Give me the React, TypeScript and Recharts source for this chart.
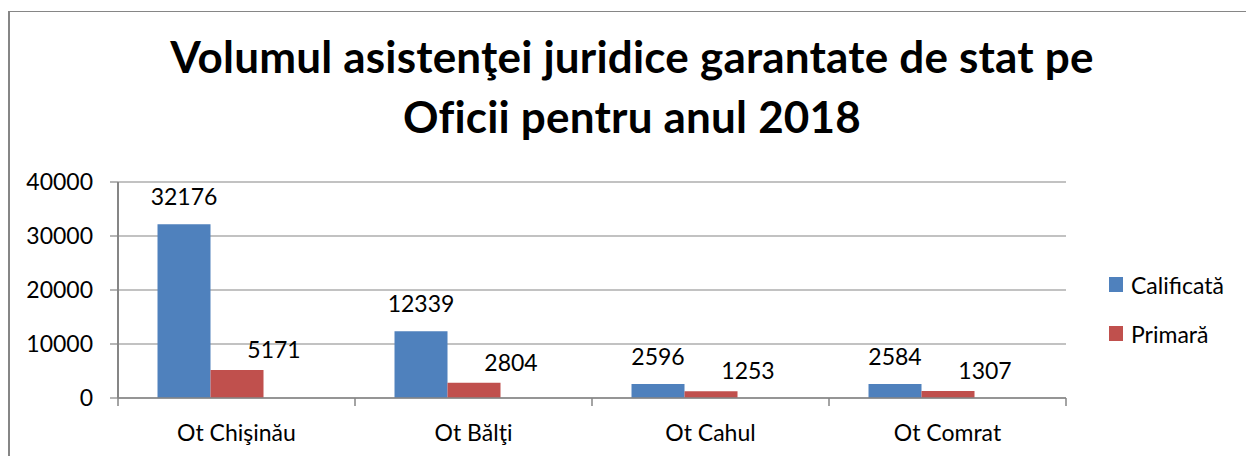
import { BarChart, Bar, XAxis, YAxis, CartesianGrid, LabelList } from "recharts";

// data
const categories = ["Ot Chişinău", "Ot Bălţi", "Ot Cahul", "Ot Comrat"];
const calificata = [32176, 12339, 2596, 2584];
const primara = [5171, 2804, 1253, 1307];
const yTicks = [0, 10000, 20000, 30000, 40000];
const seriesNames = ["Calificată", "Primară"];
const titleLines = [
  "Volumul asistenţei juridice garantate de stat pe",
  "Oficii pentru anul 2018",
];

const BLUE = "#4F81BD";
const RED = "#C0504D";
const AXIS = "#868686";
const FONT = "Lato, 'Noto Sans', sans-serif";
const TEXT_SIZE = 23;

const W = 1246;
const H = 456;
const PLOT_LEFT = 118;
const PLOT_RIGHT = 1066;
const PLOT_W = PLOT_RIGHT - PLOT_LEFT;

const data = categories.map((name, i) => ({
  name,
  calificata: calificata[i],
  primara: primara[i],
  gol: null,
}));

function CategoryTick(props: any) {
  const { x, y, payload, index } = props;
  const half = PLOT_W / categories.length / 2;
  return (
    <g>
      <line x1={x - half} x2={x - half} y1={y} y2={y + 8} stroke={AXIS} strokeWidth={1.5} />
      {index === categories.length - 1 && (
        <line x1={x + half} x2={x + half} y1={y} y2={y + 8} stroke={AXIS} strokeWidth={1.5} />
      )}
      <text
        x={x}
        y={y + 27}
        dy="0.71em"
        textAnchor="middle"
        fill="#000"
        fontSize={TEXT_SIZE}
        fontFamily={FONT}
      >
        {payload.value}
      </text>
    </g>
  );
}

const makeLabel = (dx: number, gap: number) => (props: any) => {
  const { x, y, width, value } = props;
  if (value == null) return null;
  return (
    <text
      x={Number(x) + Number(width) / 2 + dx}
      y={Number(y) - gap}
      textAnchor="middle"
      fill="#000"
      fontSize={TEXT_SIZE}
      fontFamily={FONT}
    >
      {value}
    </text>
  );
};

export default function App() {
  return (
    <div
      style={{
        position: "absolute",
        left: 0,
        top: 0,
        width: W,
        height: H,
        overflow: "hidden",
        background: "#fff",
      }}
    >
      {/* chart frame, cropped on the right and bottom like the source */}
      <div
        style={{
          position: "absolute",
          left: 8,
          top: 11,
          width: 1300,
          height: 500,
          borderTop: `1px solid ${AXIS}`,
          borderLeft: `2px solid ${AXIS}`,
        }}
      />

      {titleLines.map((line, i) => (
        <div
          key={line}
          style={{
            position: "absolute",
            left: 0,
            width: 1264,
            top: i === 0 ? 34 : 94,
            textAlign: "center",
            fontFamily: FONT,
            fontWeight: "bold",
            fontSize: 44,
            lineHeight: "44px",
            letterSpacing: 0.2,
            color: "#000",
            whiteSpace: "nowrap",
          }}
        >
          {line}
        </div>
      ))}

      <div style={{ position: "absolute", left: 0, top: 0 }}>
        <BarChart
          width={W}
          height={H}
          data={data}
          margin={{ top: 182, right: W - PLOT_RIGHT, bottom: 18, left: 8 }}
          barCategoryGap="16.67%"
          barGap={0}
        >
          <CartesianGrid vertical={false} stroke={AXIS} strokeWidth={1.2} />
          <XAxis
            dataKey="name"
            height={40}
            tickLine={false}
            tickSize={0}
            tickMargin={0}
            axisLine={{ stroke: AXIS, strokeWidth: 1.5 }}
            tick={<CategoryTick />}
            interval={0}
          />
          <YAxis
            width={PLOT_LEFT - 8}
            domain={[0, 40000]}
            ticks={yTicks}
            tickSize={8}
            tickMargin={17}
            axisLine={{ stroke: AXIS, strokeWidth: 2 }}
            tickLine={{ stroke: AXIS, strokeWidth: 1.2 }}
            tick={{ fill: "#000", fontSize: TEXT_SIZE, fontFamily: FONT }}
          />
          <Bar dataKey="calificata" name={seriesNames[0]} fill={BLUE} isAnimationActive={false}>
            <LabelList dataKey="calificata" content={makeLabel(0, 19)} />
          </Bar>
          <Bar dataKey="primara" name={seriesNames[1]} fill={RED} isAnimationActive={false}>
            <LabelList dataKey="primara" content={makeLabel(37, 12)} />
          </Bar>
          <Bar dataKey="gol" legendType="none" fill="none" isAnimationActive={false} />
        </BarChart>
      </div>

      {seriesNames.map((name, i) => (
        <div
          key={name}
          style={{
            position: "absolute",
            left: 1109,
            top: 271 + i * 49,
            height: 27,
            display: "flex",
            alignItems: "center",
            fontFamily: FONT,
            fontSize: TEXT_SIZE,
            color: "#000",
          }}
        >
          <span
            style={{
              width: 14,
              height: 15,
              background: i === 0 ? BLUE : RED,
              marginRight: 8,
              display: "inline-block",
            }}
          />
          {name}
        </div>
      ))}
    </div>
  );
}
